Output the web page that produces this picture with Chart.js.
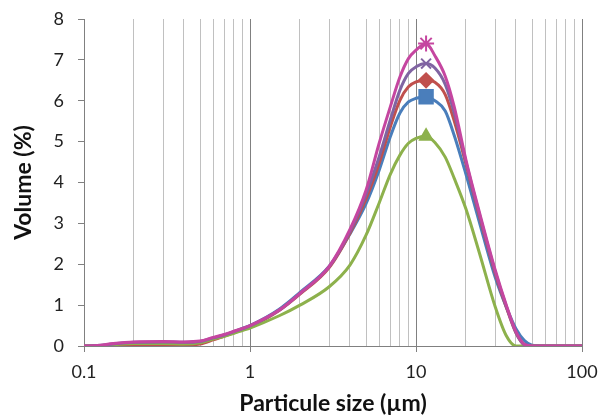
<!DOCTYPE html>
<html>
<head>
<meta charset="utf-8">
<script src="https://cdn.jsdelivr.net/npm/chart.js@4/dist/chart.umd.min.js"></script>
<style>
  html, body { margin: 0; padding: 0; background: #fff; }
</style>
</head>
<body>
<canvas id="chart" width="601" height="417"></canvas>
<script>
// particle size (µm)
const sizes = [0.1, 0.12, 0.15, 0.2, 0.3, 0.4, 0.5, 0.6, 0.7, 0.8, 0.9, 1, 1.5, 2, 3, 4, 5, 6, 7, 8, 9, 10, 11.5, 13, 15, 17, 20, 24, 30, 35, 40, 45, 50, 60, 100];

// volume (%)
const blueVol    = [0, 0, 0.04, 0.07, 0.07, 0.06, 0.09, 0.19, 0.27, 0.35, 0.43, 0.5, 0.9, 1.31, 1.95, 2.74, 3.48, 4.3, 5.12, 5.7, 5.97, 6.06, 6.1, 6.0, 5.75, 5.15, 4.2, 3.05, 1.68, 0.95, 0.42, 0.13, 0.02, 0, 0];
const redVol     = [0, 0, 0.01, 0.02, 0.02, 0.02, 0.05, 0.15, 0.24, 0.32, 0.4, 0.47, 0.87, 1.27, 1.92, 2.76, 3.6, 4.47, 5.36, 6.01, 6.34, 6.46, 6.5, 6.45, 6.15, 5.5, 4.45, 3.2, 1.78, 0.95, 0.32, 0.03, 0, 0, 0];
const greenVol   = [0, 0, 0.03, 0.06, 0.06, 0.05, 0.08, 0.17, 0.24, 0.31, 0.38, 0.44, 0.74, 1.0, 1.45, 1.98, 2.71, 3.5, 4.2, 4.67, 4.96, 5.08, 5.13, 4.98, 4.62, 4.1, 3.35, 2.3, 0.96, 0.25, 0, 0, 0, 0, 0];
const purpleVol  = [0, 0.01, 0.05, 0.09, 0.1, 0.09, 0.11, 0.2, 0.27, 0.35, 0.42, 0.49, 0.88, 1.29, 1.94, 2.8, 3.7, 4.63, 5.53, 6.26, 6.67, 6.83, 6.91, 6.8, 6.4, 5.7, 4.5, 3.25, 1.82, 0.97, 0.33, 0.03, 0, 0, 0];
const magentaVol = [0, 0.01, 0.06, 0.1, 0.11, 0.1, 0.12, 0.21, 0.28, 0.36, 0.43, 0.5, 0.88, 1.29, 1.95, 2.85, 3.81, 4.96, 5.85, 6.58, 7.03, 7.24, 7.4, 7.1, 6.6, 5.85, 4.55, 3.3, 1.86, 1.0, 0.35, 0.04, 0, 0, 0];

// axis ticks
const xGridValues = [0.1, 0.2, 0.3, 0.4, 0.5, 0.6, 0.7, 0.8, 0.9, 1, 2, 3, 4, 5, 6, 7, 8, 9, 10, 20, 30, 40, 50, 60, 70, 80, 90, 100];
const xTickValues = [0.1, 1, 10, 100];
const xTickLabels = ['0.1', '1', '10', '100'];
const yTickValues = [0, 1, 2, 3, 4, 5, 6, 7, 8];

const peakIndex = sizes.indexOf(11.5);
const font = "Lato, 'Open Sans', sans-serif";

function series(vals, color, style, radius, order) {
  return {
    data: sizes.map((s, i) => ({ x: s, y: vals[i] })),
    borderColor: color,
    backgroundColor: color,
    borderWidth: 3,
    cubicInterpolationMode: 'monotone',
    pointStyle: style,
    pointRadius: ctx => ctx.dataIndex === peakIndex ? radius : 0,
    pointHoverRadius: 0,
    pointBorderWidth: 2,
    order: order
  };
}

new Chart(document.getElementById('chart'), {
  type: 'line',
  data: {
    datasets: [
      series(blueVol, '#4a7ebb', 'rect', 9.5, 5),
      series(redVol, '#c0504d', 'rectRot', 7, 4),
      series(greenVol, '#8db14c', 'triangle', 7, 3),
      series(purpleVol, '#8064a2', 'crossRot', 7, 2),
      series(magentaVol, '#c546a0', 'star', 8, 1)
    ]
  },
  options: {
    responsive: false,
    animation: false,
    layout: { padding: { top: 19, right: 19, left: 0, bottom: 0 } },
    plugins: { legend: { display: false }, tooltip: { enabled: false } },
    scales: {
      x: {
        type: 'logarithmic',
        min: 0.1,
        max: 100,
        afterBuildTicks: scale => {
          scale.ticks = xGridValues.map(v => ({ value: v, major: xTickValues.includes(v) }));
        },
        afterFit: scale => {
          scale.height = 71;
          scale.paddingLeft = 0;
          scale.paddingRight = 0;
        },
        ticks: {
          autoSkip: false,
          maxRotation: 0,
          padding: 9,
          color: '#222',
          font: { family: font, size: 18 },
          callback: v => {
            const k = xTickValues.indexOf(v);
            return k >= 0 ? xTickLabels[k] : '';
          }
        },
        grid: {
          color: ctx => (ctx.tick && xTickValues.includes(ctx.tick.value)) ? '#808080' : '#c0c0c0',
          tickColor: ctx => (ctx.tick && xTickValues.includes(ctx.tick.value)) ? '#808080' : 'rgba(0,0,0,0)',
          tickLength: 6,
          lineWidth: 1
        },
        border: { color: '#808080', width: 1 },
        title: {
          display: true,
          text: 'Particule size (µm)',
          color: '#111',
          font: { family: font, size: 23, weight: 'bold' },
          padding: { top: 0, bottom: 0 }
        }
      },
      y: {
        min: 0,
        max: 8,
        afterBuildTicks: scale => {
          scale.ticks = yTickValues.map(v => ({ value: v }));
        },
        afterFit: scale => {
          scale.width = 84;
          scale.paddingTop = 0;
          scale.paddingBottom = 0;
        },
        ticks: {
          padding: 14,
          color: '#222',
          font: { family: font, size: 18 }
        },
        grid: {
          drawOnChartArea: false,
          color: '#808080',
          tickLength: 6
        },
        border: { color: '#808080', width: 1 },
        title: {
          display: true,
          text: 'Volume (%)',
          color: '#111',
          font: { family: font, size: 23, weight: 'bold' },
          padding: { top: 10, bottom: 0 }
        }
      }
    }
  }
});
</script>
</body>
</html>
